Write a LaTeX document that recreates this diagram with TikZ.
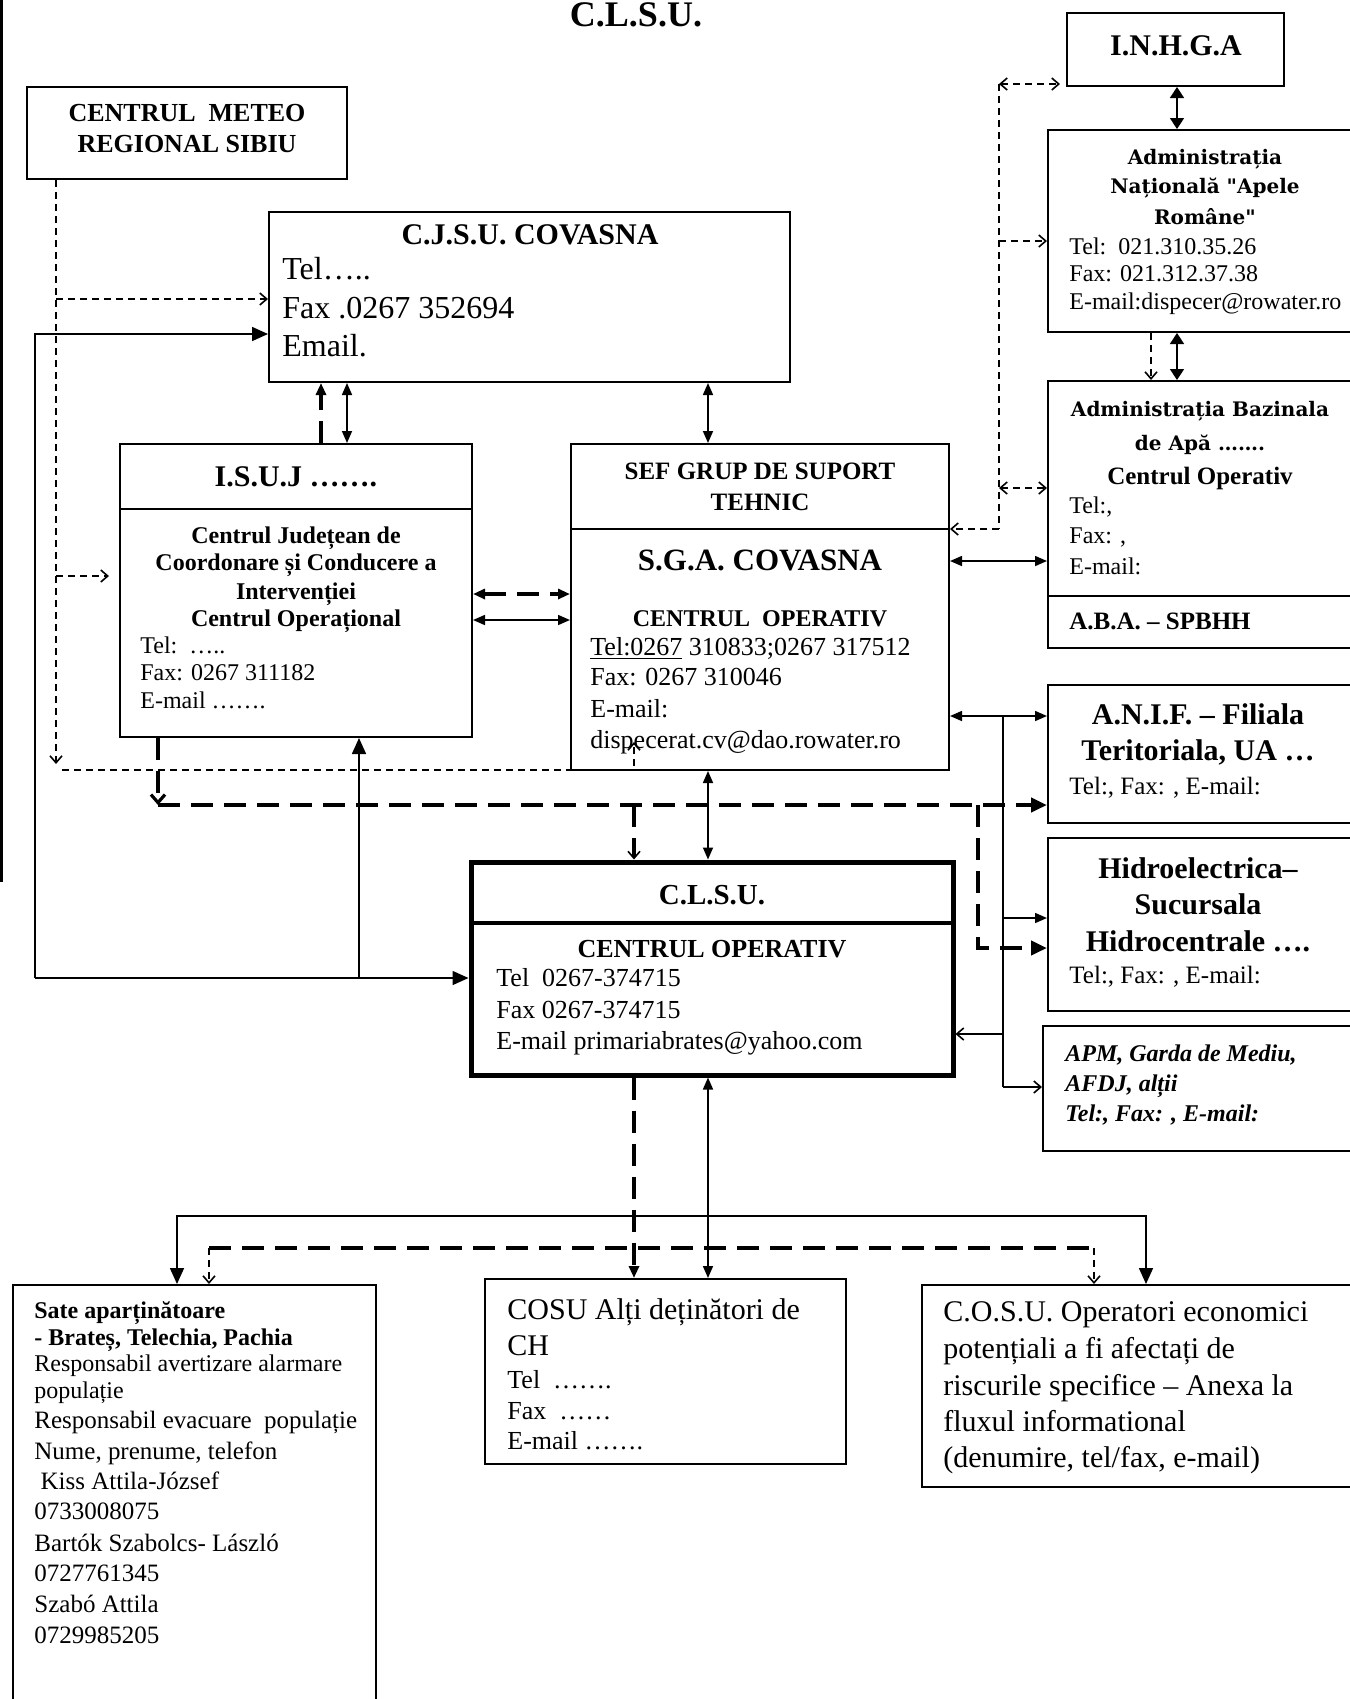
\documentclass[tikz,border=0pt]{standalone}
\usepackage{fontspec}
\setmainfont{Liberation Serif}
\newfontfamily\dvs{DejaVu Serif}
\usetikzlibrary{arrows.meta,fit}
\newcommand\fs[1]{\fontsize{#1}{#1}\selectfont}
% name, x, center-y, size(pt), anchor, text
\newcommand\tline[6]{\node[inner sep=0pt,anchor=#5,font=\fs{#4}] (#1) at (#2,{#3+0.66*#4}) {#6};}
\tikzset{
  box/.style={draw,line width=1pt,inner sep=0pt},
  ln/.style={line width=0.8pt},
  td/.style={line width=0.8pt,dash pattern=on 3.5pt off 2.5pt},
  kd/.style={line width=2.2pt,dash pattern=on 11pt off 5.5pt},
  mytri/.tip={Triangle[length=6pt,width=5pt]},
  mywide/.tip={Triangle[length=5.5pt,width=7pt]},
  mybig/.tip={Triangle[length=8pt,width=7pt]},
  mybarb/.tip={Straight Barb[length=3.5pt,width=6pt,line width=0.8pt]},
  mykbarb/.tip={Straight Barb[length=4pt,width=7pt,line width=1.6pt]},
}
\begin{document}
\begin{tikzpicture}[x=0.5pt,y=-0.5pt]
\useasboundingbox (0,0) rectangle (1350,1699);
\fill[white] (0,0) rectangle (1350,1699);
% page border piece
\draw[line width=1.5pt] (1,0) -- (1,882);
% ---------- boxes ----------
\node[box,fit={(27,87) (347,179)}] (meteo) {};
\node[box,fit={(269,212) (790,382)}] (cjsu) {};
\node[box,fit={(1067,13) (1284,86)}] (inhga) {};
\node[box,fit={(1048,130) (1354,332)}] (an) {};
\node[box,fit={(1048,381) (1354,648)}] (aba) {};
\node[box,fit={(120,444) (472,737)}] (isuj) {};
\node[box,fit={(571,444) (949,770)}] (sga) {};
\node[box,fit={(1048,685) (1354,823)}] (anif) {};
\node[box,fit={(1048,838) (1354,1011)}] (hidro) {};
\node[box,fit={(1043,1026) (1354,1151)}] (apm) {};
\node[box,line width=2.5pt,fit={(471,862) (953,1075)}] (clsu) {};
\node[box,fit={(13,1285) (376,1705)}] (sate) {};
\node[box,fit={(485,1279) (846,1464)}] (cosu) {};
\node[box,fit={(922,1285) (1354,1487)}] (oper) {};
% dividers
\draw[line width=1pt] (isuj.west |- 0,509) -- (isuj.east |- 0,509);
\draw[line width=1pt] (sga.west |- 0,529) -- (sga.east |- 0,529);
\draw[line width=1pt] (aba.west |- 0,596) -- (aba.east |- 0,596);
\draw[line width=2pt] (clsu.west |- 0,923) -- (clsu.east |- 0,923);
% ---------- texts ----------
\tline{title}{636}{15}{18}{base}{\bfseries C.L.S.U.}
\tline{m1}{187}{113}{13}{base}{\bfseries CENTRUL~~METEO}
\tline{m2}{187}{144}{13}{base}{\bfseries REGIONAL SIBIU}
\tline{c1}{530}{235}{15}{base}{\bfseries C.J.S.U. COVASNA}
\tline{c2}{282}{269}{16}{base west}{Tel…..}
\tline{c3}{282}{308}{16}{base west}{Fax .0267 352694}
\tline{c4}{282}{346}{16}{base west}{Email.}
\tline{i0}{296}{477}{15}{base}{\bfseries I.S.U.J …….}
\tline{i1}{296}{536}{12}{base}{\bfseries Centrul Județean de}
\tline{i2}{296}{563}{12}{base}{\bfseries Coordonare și Conducere a}
\tline{i3}{296}{592}{12}{base}{\bfseries Intervenției}
\tline{i4}{296}{619}{12}{base}{\bfseries Centrul Operațional}
\tline{i5}{140}{646}{12}{base west}{Tel:~~…..}
\tline{i6}{140}{673}{12}{base west}{Fax: 0267 311182}
\tline{i7}{140}{701}{12}{base west}{E-mail …….}
\tline{s1}{760}{471}{12.5}{base}{\bfseries SEF GRUP DE SUPORT}
\tline{s2}{760}{502}{12.5}{base}{\bfseries TEHNIC}
\tline{s3}{760}{560}{15.5}{base}{\bfseries S.G.A. COVASNA}
\tline{s4}{760}{619}{12}{base}{\bfseries CENTRUL~~OPERATIV}
\tline{s5}{590}{647}{13}{base west}{\underline{Tel:0267} 310833;0267 317512}
\tline{s6}{590}{677}{13}{base west}{Fax: 0267 310046}
\tline{s7}{590}{709}{13}{base west}{E-mail:}
\tline{s8}{590}{740}{13}{base west}{dispecerat.cv@dao.rowater.ro}
\tline{k1}{712}{895}{14.5}{base}{\bfseries C.L.S.U.}
\tline{k2}{712}{949}{13}{base}{\bfseries CENTRUL OPERATIV}
\tline{k3}{496}{978}{13}{base west}{Tel~~0267-374715}
\tline{k4}{496}{1010}{13}{base west}{Fax 0267-374715}
\tline{k5}{496}{1041}{13}{base west}{E-mail primariabrates@yahoo.com}
\tline{n1}{1176}{46}{15}{base}{\bfseries I.N.H.G.A}
\tline{a1}{1205}{158}{10}{base}{\dvs\bfseries Administrația}
\tline{a2}{1205}{187}{10}{base}{\dvs\bfseries Națională "Apele}
\tline{a3}{1205}{218}{10}{base}{\dvs\bfseries Române"}
\tline{a4}{1069}{247}{12}{base west}{Tel:~~021.310.35.26}
\tline{a5}{1069}{274}{12}{base west}{Fax: 021.312.37.38}
\tline{a6}{1069}{302}{12}{base west}{E-mail:dispecer@rowater.ro}
\tline{b1}{1200}{410}{10}{base}{\dvs\bfseries Administrația Bazinala}
\tline{b2}{1200}{444}{10}{base}{\dvs\bfseries de Apă …….}
\tline{b3}{1200}{476}{12.5}{base}{\bfseries Centrul Operativ}
\tline{b4}{1069}{506}{12}{base west}{Tel:,}
\tline{b5}{1069}{536}{12}{base west}{Fax: ,}
\tline{b6}{1069}{567}{12}{base west}{E-mail:}
\tline{b7}{1069}{621}{12.5}{base west}{\bfseries A.B.A. – SPBHH}
\tline{f1}{1198}{715}{15}{base}{\bfseries A.N.I.F. – Filiala}
\tline{f2}{1198}{751}{15}{base}{\bfseries Teritoriala, UA …}
\tline{f3}{1069}{786}{12.5}{base west}{Tel:, Fax: , E-mail:}
\tline{h1}{1198}{869}{15}{base}{\bfseries Hidroelectrica–}
\tline{h2}{1198}{905}{15}{base}{\bfseries Sucursala}
\tline{h3}{1198}{942}{15}{base}{\bfseries Hidrocentrale ….}
\tline{h4}{1069}{975}{12.5}{base west}{Tel:, Fax: , E-mail:}
\tline{p1}{1065}{1054}{12}{base west}{\bfseries\itshape APM, Garda de Mediu,}
\tline{p2}{1065}{1084}{12}{base west}{\bfseries\itshape AFDJ, alții}
\tline{p3}{1065}{1114}{12}{base west}{\bfseries\itshape Tel:, Fax: , E-mail:}
\tline{q1}{34}{1311}{12}{base west}{\bfseries Sate aparținătoare}
\tline{q2}{34}{1338}{12}{base west}{\bfseries - Brateș, Telechia, Pachia}
\tline{q3}{34}{1364}{12}{base west}{Responsabil avertizare alarmare}
\tline{q4}{34}{1391}{12}{base west}{populație}
\tline{q5}{34}{1420}{12.5}{base west}{Responsabil evacuare~~populație}
\tline{q6}{34}{1451}{12.5}{base west}{Nume, prenume, telefon}
\tline{q7}{34}{1481}{12.5}{base west}{~Kiss Attila-József}
\tline{q8}{34}{1511}{12.5}{base west}{0733008075}
\tline{q9}{34}{1543}{12.5}{base west}{Bartók Szabolcs- László}
\tline{q10}{34}{1573}{12.5}{base west}{0727761345}
\tline{q11}{34}{1604}{12.5}{base west}{Szabó Attila}
\tline{q12}{34}{1635}{12.5}{base west}{0729985205}
\tline{u1}{507}{1310}{15}{base west}{COSU Alți deținători de}
\tline{u2}{507}{1346}{15}{base west}{CH}
\tline{u3}{507}{1380}{13}{base west}{Tel~~…….}
\tline{u4}{507}{1411}{13}{base west}{Fax~~……}
\tline{u5}{507}{1441}{13}{base west}{E-mail …….}
\tline{o1}{943}{1312}{15}{base west}{C.O.S.U. Operatori economici}
\tline{o2}{943}{1349}{15}{base west}{potențiali a fi afectați de}
\tline{o3}{943}{1386}{15}{base west}{riscurile specifice – Anexa la}
\tline{o4}{943}{1422}{15}{base west}{fluxul informational}
\tline{o5}{943}{1458}{15}{base west}{(denumire, tel/fax, e-mail)}
% ---------- connectors ----------
% meteo
\draw[td,-mybarb] (meteo.south -| 56,0) -- (56,764);
\draw[td,-mybarb] (56,299) -- (cjsu.west |- 56,299);
\draw[td,-mybarb,shorten >=5pt] (56,576) -- (isuj.west |- 56,576);
\draw[td,-mybarb] (62,770) -- (634,770) -- (634,742);
% left solid
\draw[ln,-mybig] (35,978) -- (35,334) -- (cjsu.west |- 35,334);
\draw[ln,-mybig] (35,978) -- (clsu.west |- 35,978);
\draw[ln,-mybig] (359,978) -- (isuj.south -| 359,0);
% cjsu - isuj - sga
\draw[kd,-mytri] (isuj.north -| 321,0) -- (cjsu.south -| 321,0);
\draw[ln,mytri-mytri] (cjsu.south -| 347,0) -- (isuj.north -| 347,0);
\draw[ln,mytri-mytri] (cjsu.south -| 708,0) -- (sga.north -| 708,0);
\draw[kd,mytri-mytri] (isuj.east |- 0,594) -- (sga.west |- 0,594);
\draw[ln,mytri-mytri] (isuj.east |- 0,620) -- (sga.west |- 0,620);
% sga - right column
\draw[ln,mytri-mytri] (sga.east |- 0,561) -- (aba.west |- 0,561);
\draw[ln,mytri-mytri] (sga.east |- 0,716) -- (anif.west |- 0,716);
\draw[ln] (1003,716) -- (1003,1087);
\draw[ln,-mytri] (1003,918) -- (hidro.west |- 0,918);
\draw[ln,-mybarb] (1003,1034) -- (clsu.east |- 0,1034);
\draw[ln,-mybarb] (1003,1087) -- (apm.west |- 0,1087);
% thick dashed from isuj
\draw[kd,-mykbarb] (isuj.south -| 158,0) -- (158,805);
\draw[kd,-mybig] (158,805) -- (anif.west |- 0,805);
\draw[kd,-mybarb] (634,805) -- (clsu.north -| 634,0);
\draw[kd,-mybig] (978,805) -- (978,948) -- (hidro.west |- 0,948);
% sga - clsu
\draw[ln,mytri-mytri] (sga.south -| 708,0) -- (clsu.north -| 708,0);
% clsu bottom
\draw[kd,-mytri] (clsu.south -| 634,0) -- (cosu.north -| 634,0);
\draw[ln,mytri-mytri] (clsu.south -| 708,0) -- (cosu.north -| 708,0);
\draw[ln,-mybig] (708,1216) -- (177,1216) -- (sate.north -| 177,0);
\draw[ln,-mybig] (708,1216) -- (1146,1216) -- (oper.north -| 1146,0);
\draw[kd] (209,1248) -- (1094,1248);
\draw[td,-mybarb] (209,1248) -- (sate.north -| 209,0);
\draw[td,-mybarb] (1094,1248) -- (oper.north -| 1094,0);
% right thin dashed bus
\draw[td] (999,84) -- (999,529);
\draw[td,mybarb-mybarb] (999,84) -- (1060,84);
\draw[td,-mybarb] (999,241) -- (an.west |- 0,241);
\draw[td,mybarb-mybarb] (999,488) -- (aba.west |- 0,488);
\draw[td,-mybarb] (999,529) -- (sga.east |- 0,529);
% inhga - an - aba
\draw[ln,mywide-mywide] (inhga.south -| 1177,0) -- (an.north -| 1177,0);
\draw[td,-mybarb] (an.south -| 1151,0) -- (aba.north -| 1151,0);
\draw[ln,mywide-mywide] (an.south -| 1177,0) -- (aba.north -| 1177,0);
\end{tikzpicture}
\end{document}
